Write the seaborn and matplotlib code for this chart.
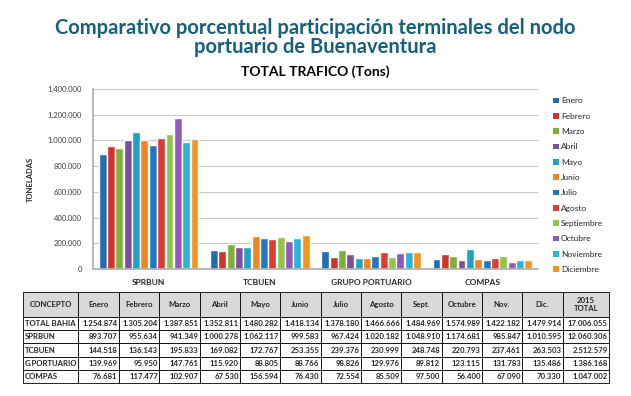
import numpy as np
import pandas as pd
import seaborn as sns
import matplotlib.pyplot as plt
from matplotlib.patches import Patch
from matplotlib.ticker import FuncFormatter

sns.set_theme(style="white")
plt.rcParams['font.family'] = ['Lato', 'DejaVu Sans']

# data (tons per month, 2015)
meses = ["Enero", "Febrero", "Marzo", "Abril", "Mayo", "Junio",
         "Julio", "Agosto", "Septiembre", "Octubre", "Noviembre", "Diciembre"]
col_meses = ["Enero", "Febrero", "Marzo", "Abril", "Mayo", "Junio",
             "Julio", "Agosto", "Sept.", "Octubre", "Nov.", "Dic."]
terminales = ["SPRBUN", "TCBUEN", "GRUPO PORTUARIO", "COMPAS"]
filas_tabla = ["TOTAL BAHIA", "SPRBUN", "TCBUEN", "G.PORTUARIO", "COMPAS"]

total_bahia = [1254874, 1305204, 1387851, 1352811, 1480282, 1418134,
               1378180, 1466666, 1484969, 1574989, 1422182, 1479914]
sprbun = [893707, 955634, 941349, 1000278, 1062117, 999583,
          967424, 1020182, 1048910, 1174681, 985847, 1010595]
tcbuen = [144518, 136143, 195833, 169082, 172767, 253355,
          239376, 230999, 248748, 220793, 237461, 263503]
gportuario = [139969, 95950, 147761, 115920, 88805, 88766,
              98826, 129976, 89812, 123115, 131783, 135486]
compas = [76681, 117477, 102907, 67530, 156594, 76430,
          72554, 85509, 97500, 56400, 67090, 70330]
totales_2015 = [17006055, 12060306, 2512579, 1386168, 1047002]

colores = ["#1f6eb5", "#d4312b", "#7faf3b", "#7d4f9f", "#21a2c2", "#f0861d",
           "#2178c0", "#e03a37", "#92c446", "#9159bd", "#28b6d8", "#f7941d"]

series = [sprbun, tcbuen, gportuario, compas]
df = pd.DataFrame({
    "terminal": np.repeat(terminales, len(meses)),
    "mes": meses * len(terminales),
    "tons": np.concatenate(series),
})


def miles(v):
    return "{:,}".format(int(v)).replace(",", ".")


W, H = 631, 396
fig = plt.figure(figsize=(W / 100, H / 100), dpi=100)

title_color = "#17607d"
fig.text(0.5, 1 - 28 / H, "Comparativo porcentual participación terminales del nodo",
         ha="center", va="center", fontsize=14.5, fontweight="bold", color=title_color)
fig.text(0.5, 1 - 47 / H, "portuario de Buenaventura",
         ha="center", va="center", fontsize=14.5, fontweight="bold", color=title_color)
fig.text(0.5, 1 - 72 / H, "TOTAL TRAFICO (Tons)",
         ha="center", va="center", fontsize=10, fontweight="bold", color="black")

ax = fig.add_axes([93 / W, 1 - 269 / H, (538 - 93) / W, (269 - 89) / H])
sns.barplot(data=df, x="terminal", y="tons", hue="mes", hue_order=meses,
            palette=colores, width=0.9, gap=0.05, ax=ax, legend=False,
            saturation=1)

ax.set_ylim(0, 1400000)
ax.set_yticks(np.arange(0, 1400001, 200000))
ax.yaxis.set_major_formatter(FuncFormatter(lambda v, p: miles(v)))
ax.tick_params(axis="y", labelsize=5.5, colors="#404040", length=0, pad=8)
ax.tick_params(axis="x", labelsize=6, length=0, pad=7)
for lbl in ax.get_xticklabels():
    lbl.set_fontweight("bold")
ax.set_xlabel("")
ax.set_ylabel("TONELADAS", fontsize=5.5, fontweight="bold", labelpad=10)
ax.yaxis.grid(True, color="#c8c8c8", linewidth=0.8)
ax.set_axisbelow(True)
for s in ["top", "right"]:
    ax.spines[s].set_visible(False)
ax.spines["left"].set_color("#b0b0b0")
ax.spines["bottom"].set_color("#b0b0b0")

handles = [Patch(facecolor=c, edgecolor="none") for c in colores]
fig.legend(handles, meses, loc="upper left", bbox_to_anchor=(550 / W, 1 - 94 / H),
           frameon=False, fontsize=6, handlelength=0.7, handleheight=0.7,
           handletextpad=0.2, labelspacing=1.0, borderaxespad=0)

# table
ax_t = fig.add_axes([23 / W, 1 - 383 / H, (609 - 23) / W, (383 - 292) / H])
ax_t.axis("off")
filas = [total_bahia, sprbun, tcbuen, gportuario, compas]
cell_text = [[nombre] + [miles(v) for v in fila] + [miles(t)]
             for nombre, fila, t in zip(filas_tabla, filas, totales_2015)]
col_labels = ["CONCEPTO"] + col_meses + ["2015\nTOTAL"]
anchos = [55] + [40] * 12 + [46]
tbl = ax_t.table(cellText=cell_text, colLabels=col_labels, colWidths=anchos,
                 bbox=[0, 0, 1, 1], cellLoc="right")
tbl.auto_set_font_size(False)
for (r, c), cell in tbl.get_celld().items():
    cell.set_edgecolor("black")
    cell.set_linewidth(0.6)
    cell.get_text().set_fontsize(5.6)
    cell.get_text().set_fontweight("bold")
    cell.PAD = 0.03
    if r == 0:
        cell.set_height(1.9)
        cell.set_facecolor("#d9d9d9")
        cell.get_text().set_ha("center")
        cell._loc = "center"
    else:
        cell.set_height(1.0)
        if c == 0:
            cell._loc = "left"
            cell.get_text().set_ha("left")

fig.savefig("out.png", dpi=100)
